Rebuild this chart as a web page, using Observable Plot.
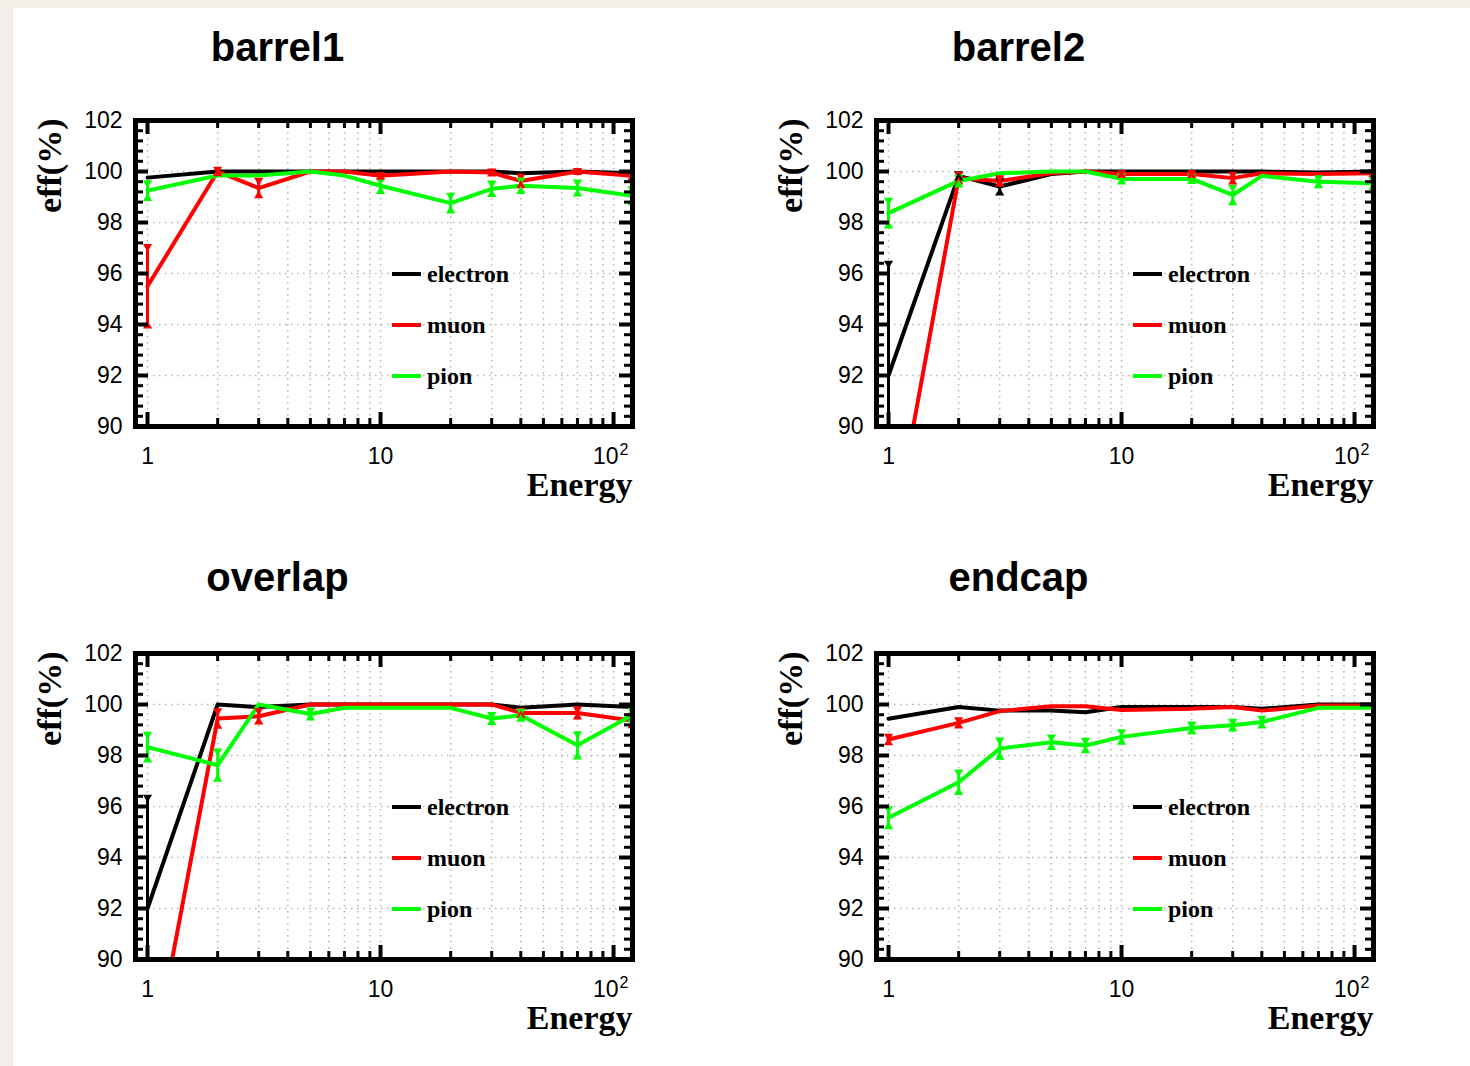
<!DOCTYPE html>
<html><head><meta charset="utf-8">
<script src="https://cdn.jsdelivr.net/npm/d3@7"></script>
<script src="https://cdn.jsdelivr.net/npm/@observablehq/plot@0.6"></script>
<style>
html,body{margin:0;padding:0;background:#f2efe8;}
#page{position:relative;width:1470px;height:1066px;overflow:hidden;}
#sheet{position:absolute;left:13px;top:8px;right:0;bottom:0;background:#fff;}
.panel{position:absolute;width:640px;height:520px;}
.panel svg{position:absolute;left:0;top:0;}
.lrow{position:absolute;left:377px;height:0;}
.swatch{position:absolute;left:0;top:-2px;width:29px;height:4px;}
.lab{position:absolute;left:35px;top:-14px;font:bold 24px "Liberation Serif";line-height:28px;white-space:nowrap;color:#000;}
</style></head><body>
<div id="page"><div id="sheet"></div></div>
<script>
const energies = [1, 2, 3, 5, 7, 10, 20, 30, 40, 70, 120];
const particles = ["electron", "muon", "pion"];
const particleColors = ["#000000", "#ff0000", "#00ff00"];
const panelNames = ["barrel1", "barrel2", "overlap", "endcap"];
const yTicksMajor = [90, 92, 94, 96, 98, 100, 102];
const xTickValues = [1, 10, 100];
const xTickLabels = ["1", "10", "10"];
const xTickExponents = ["", "", "2"];

const barrel1Electron = [99.76, 100, 100, 100, 100, 100, 100, 100, 99.93, 100, 99.93];
const barrel1ElectronErr = [0, 0, 0, 0, 0, 0, 0, 0, 0, 0, 0];
const barrel1Muon = [95.5, 100, 99.35, 100, 100, 99.83, 100, 99.96, 99.63, 100, 99.83];
const barrel1MuonErr = [1.55, 0.08, 0.3, 0, 0, 0.05, 0, 0.05, 0.18, 0.03, 0.08];
const barrel1Pion = [99.25, 99.84, 99.84, 100, 99.84, 99.44, 98.76, 99.32, 99.44, 99.35, 99.05];
const barrel1PionErr = [0.3, 0, 0, 0, 0, 0.22, 0.3, 0.22, 0.22, 0.23, 0.27];

const barrel2Electron = [92.0, 99.83, 99.41, 99.9, 100, 100, 100, 100, 100, 99.96, 100];
const barrel2ElectronErr = [4.4, 0.08, 0.25, 0, 0, 0, 0, 0, 0, 0, 0];
const barrel2Muon = [84.7, 99.74, 99.63, 99.93, 100, 99.9, 99.9, 99.74, 99.93, 99.9, 99.93];
const barrel2MuonErr = [3, 0.15, 0.12, 0, 0, 0.05, 0.05, 0.15, 0, 0, 0.05];
const barrel2Pion = [98.37, 99.63, 99.93, 100, 100, 99.71, 99.71, 99.08, 99.83, 99.6, 99.54];
const barrel2PionErr = [0.5, 0.15, 0, 0, 0, 0.12, 0.1, 0.3, 0, 0.15, 0.15];

const overlapElectron = [92.0, 100, 99.9, 100, 100, 100, 100, 100, 99.87, 100, 99.9];
const overlapElectronErr = [4.36, 0, 0, 0, 0, 0, 0, 0, 0, 0, 0];
const overlapMuon = [84.9, 99.45, 99.54, 100, 100, 100, 100, 100, 99.67, 99.67, 99.37];
const overlapMuonErr = [3, 0.3, 0.22, 0, 0, 0, 0, 0, 0.1, 0.15, 0.2];
const overlapPion = [98.33, 97.62, 100, 99.63, 99.87, 99.87, 99.87, 99.45, 99.58, 98.4, 99.58];
const overlapPionErr = [0.5, 0.55, 0, 0.15, 0, 0, 0, 0.15, 0.15, 0.45, 0.18];

const endcapElectron = [99.44, 99.9, 99.76, 99.76, 99.7, 99.9, 99.9, 99.9, 99.83, 100, 100];
const endcapElectronErr = [0, 0, 0, 0, 0, 0, 0, 0, 0, 0, 0];
const endcapMuon = [98.63, 99.28, 99.74, 99.93, 99.93, 99.78, 99.83, 99.9, 99.76, 99.96, 99.96];
const endcapMuonErr = [0.12, 0.12, 0, 0, 0, 0, 0, 0, 0, 0, 0];
const endcapPion = [95.56, 96.95, 98.27, 98.52, 98.39, 98.73, 99.08, 99.19, 99.31, 99.87, 99.87];
const endcapPionErr = [0.35, 0.4, 0.33, 0.2, 0.2, 0.2, 0.15, 0.15, 0.15, 0, 0];

const panelValues = [
  [barrel1Electron, barrel1Muon, barrel1Pion],
  [barrel2Electron, barrel2Muon, barrel2Pion],
  [overlapElectron, overlapMuon, overlapPion],
  [endcapElectron, endcapMuon, endcapPion]
];
const panelErrors = [
  [barrel1ElectronErr, barrel1MuonErr, barrel1PionErr],
  [barrel2ElectronErr, barrel2MuonErr, barrel2PionErr],
  [overlapElectronErr, overlapMuonErr, overlapPionErr],
  [endcapElectronErr, endcapMuonErr, endcapPionErr]
];

// axis tick sets
const yMinor = d3.range(90, 102.0001, 0.4);
const xGrid = [];
[1, 10].forEach(dec => { for (let k = 1; k < 10; k++) xGrid.push(k * dec); });
xGrid.push(100);
const xMinor = xGrid.filter(v => !xTickValues.includes(v));

const W = 640, H = 520, ML = 120, MT = 110, MR = 23, MB = 104;
const innerW = W - ML - MR, innerH = H - MT - MB;
const positions = [[15, 10], [756, 10], [15, 543], [756, 543]];
const titleOffsets = [-88, -88, -91, -91];
const legendTops = [264, 315, 366];

function makePanel(idx) {
  const rows = [];
  particles.forEach((p, j) => {
    energies.forEach((e, i) => rows.push({energy: e, eff: panelValues[idx][j][i], err: panelErrors[idx][j][i], particle: p}));
  });
  const errRows = rows.filter(d => d.err > 0);
  const grid = {stroke: "#b5b5b5", strokeWidth: 1.5, strokeDasharray: "1.5,4.5"};
  const ticks = xTickValues.map((v, i) => ({v, label: xTickLabels[i], exp: xTickExponents[i]}));
  const plainTicks = ticks.filter(t => !t.exp);
  const expTicks = ticks.filter(t => t.exp);
  const sans = {fontFamily: "Liberation Sans", fill: "black"};
  return Plot.plot({
    width: W, height: H, marginLeft: ML, marginTop: MT, marginRight: MR, marginBottom: MB,
    style: {background: "transparent", overflow: "visible"},
    x: {type: "log", domain: [0.888, 120.6], axis: null},
    y: {domain: [90, 102], axis: null},
    color: {domain: particles, range: particleColors},
    marks: [
      Plot.ruleY(yTicksMajor, {y: d => d, ...grid}),
      Plot.ruleX(xGrid, {x: d => d, ...grid}),
      Plot.line(rows, {x: "energy", y: "eff", z: "particle", stroke: "particle", strokeWidth: 4, clip: true}),
      Plot.ruleX(errRows, {x: "energy", y1: d => d.eff - d.err, y2: d => d.eff + d.err, stroke: "particle", strokeWidth: 3, clip: true}),
      Plot.dot(errRows, {x: "energy", y: d => d.eff + d.err, symbol: "triangle", rotate: 180, r: 3.4, fill: "particle", clip: true}),
      Plot.dot(errRows, {x: "energy", y: d => d.eff - d.err, symbol: "triangle", r: 3.4, fill: "particle", clip: true}),
      // inward ticks
      Plot.tickY(yMinor, {y: d => d, stroke: "black", strokeWidth: 3, insetRight: innerW - 8}),
      Plot.tickY(yMinor, {y: d => d, stroke: "black", strokeWidth: 3, insetLeft: innerW - 8}),
      Plot.tickY(yTicksMajor, {y: d => d, stroke: "black", strokeWidth: 4, insetRight: innerW - 13}),
      Plot.tickY(yTicksMajor, {y: d => d, stroke: "black", strokeWidth: 4, insetLeft: innerW - 13}),
      Plot.tickX(xMinor, {x: d => d, stroke: "black", strokeWidth: 3, insetTop: innerH - 8}),
      Plot.tickX(xMinor, {x: d => d, stroke: "black", strokeWidth: 3, insetBottom: innerH - 8}),
      Plot.tickX(xTickValues, {x: d => d, stroke: "black", strokeWidth: 4, insetTop: innerH - 14}),
      Plot.tickX(xTickValues, {x: d => d, stroke: "black", strokeWidth: 4, insetBottom: innerH - 14}),
      Plot.frame({stroke: "black", strokeWidth: 5}),
      // tick labels
      Plot.text(yTicksMajor, {y: d => d, text: d => String(d), frameAnchor: "left", dx: -13, textAnchor: "end", fontSize: 23, ...sans}),
      Plot.text(plainTicks, {x: "v", text: "label", frameAnchor: "bottom", dy: 37, textAnchor: "middle", fontSize: 23, ...sans}),
      Plot.text(expTicks, {x: "v", text: "label", frameAnchor: "bottom", dy: 37, dx: 5, textAnchor: "end", fontSize: 23, ...sans}),
      Plot.text(expTicks, {x: "v", text: "exp", frameAnchor: "bottom", dy: 28, dx: 6, textAnchor: "start", fontSize: 16, ...sans}),
      // axis titles
      Plot.text(["Energy"], {text: d => d, frameAnchor: "bottom-right", dy: 69, textAnchor: "end", fontSize: 34, fontWeight: "bold", fontFamily: "Liberation Serif", fill: "black"}),
      Plot.text(["eff(%)"], {text: d => d, frameAnchor: "top-left", rotate: -90, textAnchor: "end", dx: -99, dy: -2, fontSize: 34, fontWeight: "bold", fontFamily: "Liberation Serif", fill: "black"}),
      // panel title
      Plot.text([panelNames[idx]], {text: d => d, frameAnchor: "top-left", dx: 142, dy: titleOffsets[idx], textAnchor: "middle", fontSize: 40, fontWeight: "bold", ...sans})
    ]
  });
}

const page = document.getElementById("page");
panelNames.forEach((name, idx) => {
  const div = document.createElement("div");
  div.className = "panel";
  div.style.left = positions[idx][0] + "px";
  div.style.top = positions[idx][1] + "px";
  div.appendChild(makePanel(idx));
  particles.forEach((p, j) => {
    const row = document.createElement("div");
    row.className = "lrow";
    row.style.top = legendTops[j] + "px";
    const sw = document.createElement("div");
    sw.className = "swatch";
    sw.style.background = particleColors[j];
    const lab = document.createElement("div");
    lab.className = "lab";
    lab.textContent = p;
    row.appendChild(sw);
    row.appendChild(lab);
    div.appendChild(row);
  });
  page.appendChild(div);
});
</script>
</body></html>
